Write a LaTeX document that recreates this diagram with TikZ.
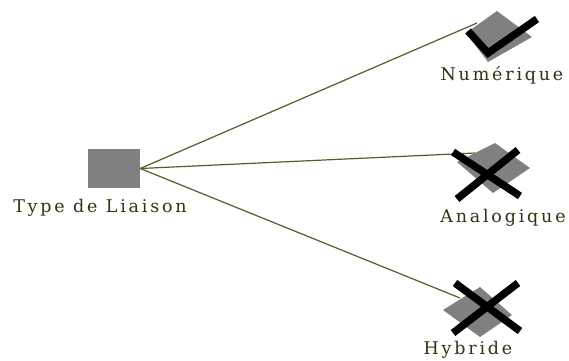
\documentclass[tikz,border=0pt]{standalone}
\usepackage{fontspec}
\setmainfont{DejaVu Serif}[LetterSpace=16]
\begin{document}
\begin{tikzpicture}[x=1pt,y=-1pt,
  link/.style={draw=linkc,line width=1.2pt},
  lbl/.style={text=textc,font=\fontsize{17.5}{19}\selectfont,inner sep=0pt},
  tick/.style={draw=black,line width=7.5pt,line join=miter}]
\definecolor{linkc}{HTML}{5A5A2A}
\definecolor{textc}{HTML}{333311}
\definecolor{diac}{HTML}{808080}
\useasboundingbox (0,0) rectangle (569,360);
\node[fill=diac,minimum width=52pt,minimum height=39pt,inner sep=0pt] (root) at (114,168.5) {};
\node[lbl] (rootl) at (100,208) {Type de Liaison};
% endpoints
\coordinate (num) at (477,23);
\coordinate (ana) at (475,153);
\coordinate (hyb) at (460,298);
% diamonds
\fill[diac] (497,11) -- (532,37) -- (488,62) -- (466,33) -- cycle;
\fill[diac] (495,143) -- (530,168) -- (493,193) -- (457,162) -- cycle;
\fill[diac] (480,287) -- (512,315) -- (480,337) -- (443,310) -- cycle;
% connectors
\draw[link] (root.east) -- (num);
\draw[link] (root.east) -- (ana);
\draw[link] (root.east) -- (hyb);
% check
\draw[tick] (468,31) -- (488,53) -- (537,19);
% crosses
\draw[tick] (453,152) -- (520,196);
\draw[tick] (518,150) -- (457,199);
\draw[tick] (455,283) -- (520,331);
\draw[tick] (518,283) -- (453,333);
% labels
\node[lbl] (numl) at (502,75) {Numérique};
\node[lbl] (anal) at (503,218) {Analogique};
\node[lbl] (hybl) at (468,350) {Hybride};
\end{tikzpicture}
\end{document}
